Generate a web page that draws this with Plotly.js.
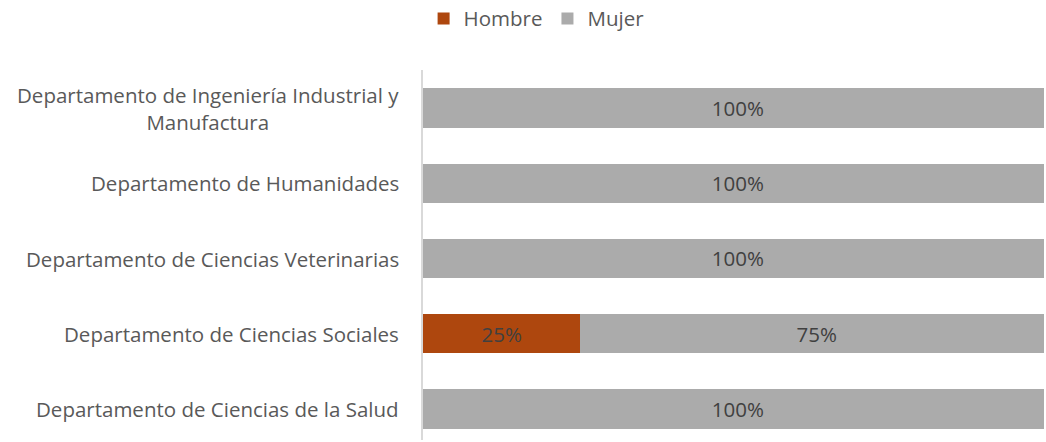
<!DOCTYPE html>
<html>
<head>
<meta charset="utf-8">
<script src="https://cdn.plot.ly/plotly-3.0.1.min.js"></script>
<style>html,body{margin:0;padding:0;background:#fff;}#chart{width:1046px;height:442px;}</style>
</head>
<body>
<div id="chart"></div>
<script>
var categories = [
  "Departamento de Ciencias de la Salud",
  "Departamento de Ciencias Sociales",
  "Departamento de Ciencias Veterinarias",
  "Departamento de Humanidades",
  "Departamento de Ingeniería Industrial y<br>Manufactura"
];
var hombre = [0, 25, 0, 0, 0];
var mujer = [100, 75, 100, 100, 100];
var seriesNames = ["Hombre", "Mujer"];
var seriesColors = ["#AE470E", "#ABABAB"];

var FONT = "'Open Sans', sans-serif";
var FS = 20.5;

function labels(vals) {
  return vals.map(function (v) { return v > 0 ? v + "%" : ""; });
}

var traces = [hombre, mujer].map(function (vals, i) {
  return {
    type: "bar",
    orientation: "h",
    name: seriesNames[i],
    y: categories,
    x: vals,
    marker: { color: seriesColors[i], line: { width: 0 } },
    text: labels(vals),
    textposition: "inside",
    insidetextanchor: "middle",
    textangle: 0,
    textfont: { family: FONT, size: FS, color: "#404040" },
    hoverinfo: "x+name",
    cliponaxis: true
  };
});

var annotations = categories.map(function (c) {
  return {
    xref: "paper", yref: "y",
    x: 0, y: c,
    xanchor: "right", yanchor: "middle",
    xshift: -22,
    text: c,
    showarrow: false,
    align: "center",
    font: { family: FONT, size: FS, color: "#595959" }
  };
});

var layout = {
  width: 1046, height: 442,
  margin: { l: 423, r: 2, t: 70, b: 2 },
  paper_bgcolor: "#ffffff",
  plot_bgcolor: "#ffffff",
  barmode: "stack",
  bargap: 0.48,
  showlegend: true,
  legend: {
    orientation: "h",
    xref: "container", yref: "container",
    x: 0.513, xanchor: "center",
    y: 0.958, yanchor: "middle",
    font: { family: FONT, size: FS, color: "#595959" },
    traceorder: "normal",
    itemwidth: 30
  },
  xaxis: {
    range: [0, 98.6],
    showgrid: false, zeroline: false, showticklabels: false,
    showline: false, ticks: "", fixedrange: true
  },
  yaxis: {
    type: "category",
    range: [-0.412, 4.505],
    showgrid: false, zeroline: false, showticklabels: false,
    showline: true, linecolor: "#D9D9D9", linewidth: 2,
    ticks: "", fixedrange: true
  },
  annotations: annotations
};

Plotly.newPlot("chart", traces, layout, { displayModeBar: false, staticPlot: true });
</script>
</body>
</html>
